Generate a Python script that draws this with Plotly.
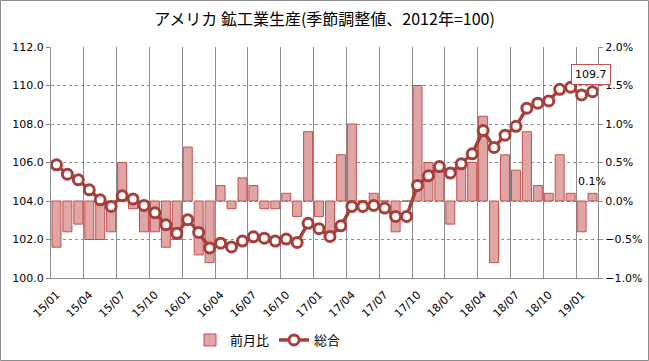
import plotly.graph_objects as go

months = [f"{y:02d}/{m:02d}" for y in range(15, 20) for m in range(1, 13)][:50]

index_vals = [105.88, 105.39, 105.10, 104.58, 104.06, 103.72, 104.27, 104.11, 103.77, 103.39,
              102.77, 102.33, 103.03, 102.37, 101.56, 101.81, 101.61, 101.92, 102.14, 102.07,
              101.92, 102.02, 101.85, 102.84, 102.56, 102.16, 102.71, 103.72, 103.72, 103.77,
              103.63, 103.20, 103.20, 104.81, 105.31, 105.79, 105.45, 105.93, 106.45, 107.66,
              106.78, 107.42, 107.88, 108.82, 109.08, 109.20, 109.80, 109.91, 109.51, 109.68]

mom_pct = [-0.6, -0.4, -0.3, -0.5, -0.5, -0.4, 0.5, -0.1, -0.4, -0.4,
           -0.6, -0.5, 0.7, -0.7, -0.8, 0.2, -0.1, 0.3, 0.2, -0.1,
           -0.1, 0.1, -0.2, 0.9, -0.2, -0.4, 0.6, 1.0, 0.0, 0.1,
           0.0, -0.4, 0.0, 1.5, 0.5, 0.5, -0.3, 0.5, 0.5, 1.1,
           -0.8, 0.6, 0.4, 0.9, 0.2, 0.1, 0.6, 0.1, -0.4, 0.1]

mom_frac = [v / 100 for v in mom_pct]

# vertical gridlines at the boundaries before every third month
grid_bounds = [i - 0.5 for i in range(0, len(months), 3)]

font_jp = "Noto Sans CJK JP"
font_num = "DejaVu Sans"
grid_col = "#8C8C8C"
red = "#A5403C"

fig = go.Figure()
# helper (invisible) trace so the overlay grid axis gets drawn
fig.add_trace(go.Scatter(x=[], y=[], xaxis="x2", yaxis="y", showlegend=False,
                         hoverinfo="skip", mode="markers"))
fig.add_trace(go.Bar(
    x=months, y=mom_frac, name="前月比", xaxis="x", yaxis="y",
    marker=dict(color="#E0A5A5", line=dict(color="#C0504D", width=1)),
))
fig.add_trace(go.Scatter(
    x=months, y=index_vals, name="総合", xaxis="x", yaxis="y2", mode="lines+markers",
    line=dict(color=red, width=3.5),
    marker=dict(symbol="circle", size=10, color="white", line=dict(color=red, width=3)),
))

fig.add_annotation(x=months[-1], y=index_vals[-1], xref="x", yref="y2",
                   text=f"{index_vals[-1]:.1f}", showarrow=False, xanchor="center", yanchor="bottom",
                   xshift=-2, yshift=7, bordercolor="#C0504D", borderwidth=1, borderpad=3,
                   bgcolor="white", font=dict(family=font_num, size=11, color="black"))
fig.add_annotation(x=months[-1], y=mom_frac[-1], xref="x", yref="y",
                   text=f"{mom_pct[-1]:.1f}%", showarrow=False, xanchor="center", yanchor="bottom",
                   xshift=-1, yshift=3, font=dict(family=font_num, size=11, color="black"))

axfont = dict(family=font_num, size=11, color="black")

fig.update_layout(
    width=649, height=361,
    margin=dict(l=51, r=51, t=47, b=83, autoexpand=False),
    paper_bgcolor="white", plot_bgcolor="white",
    title=dict(text="アメリカ 鉱工業生産(季節調整値、2012年=100)", x=0.5, xanchor="center",
               y=1 - 19 / 361, yanchor="middle", font=dict(family=font_jp, size=16, color="black")),
    bargap=0.18,
    showlegend=True,
    legend=dict(orientation="h", x=(268 - 51) / 547, xanchor="center", y=-62 / 231, yanchor="middle",
                font=dict(family=font_jp, size=13, color="black"), itemwidth=30,
                tracegroupgap=0),
    xaxis=dict(type="category", tickmode="linear", tick0=0, dtick=3,
               tickangle=-45, showgrid=False, ticklabelstandoff=5,
               showline=True, linecolor=grid_col, linewidth=1, ticks="",
               tickfont=axfont, range=[-0.5, len(months) - 0.5]),
    xaxis2=dict(type="linear", overlaying="x", anchor="y", range=[-0.5, len(months) - 0.5],
                tickmode="array", tickvals=grid_bounds, showticklabels=False, ticks="",
                showgrid=True, gridcolor=grid_col, gridwidth=1, zeroline=False, showline=False),
    yaxis=dict(range=[-0.01, 0.02], dtick=0.005, tickformat=".1%", side="right",
               showgrid=False, zeroline=False, showline=True, linecolor=grid_col,
               ticks="outside", ticklen=4, tickcolor=grid_col, tickfont=axfont),
    yaxis2=dict(range=[100, 112], dtick=2, tickformat=".1f", overlaying="y", side="left",
                showgrid=True, gridcolor=grid_col, griddash="dot", gridwidth=1,
                showline=True, linecolor=grid_col, ticks="outside", ticklen=4, tickcolor=grid_col,
                tickfont=axfont, zeroline=False),
)

fig.add_shape(type="rect", xref="paper", yref="paper",
              x0=-50.5 / 547, x1=1 + 50.5 / 547, y0=-82.5 / 231, y1=1 + 46.5 / 231,
              line=dict(color=grid_col, width=1), fillcolor="rgba(0,0,0,0)", layer="below")

fig.write_html("out.html", config={"displayModeBar": False},
               post_script="document.body.style.margin='0';")
